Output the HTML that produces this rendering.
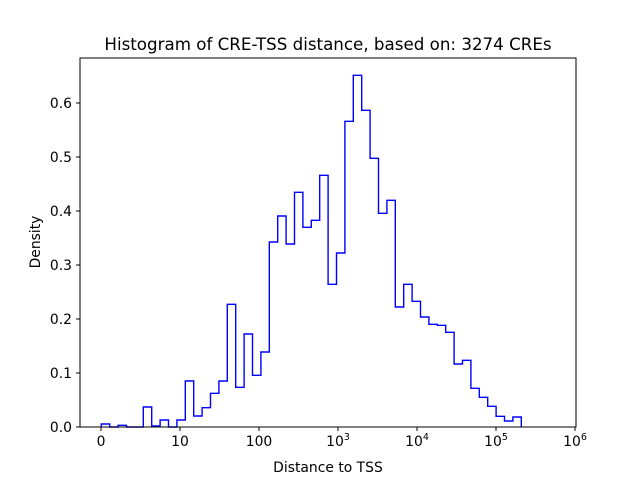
<!DOCTYPE html>
<html><head><style>body{margin:0;background:#fff}svg{display:block}text{font-family:"DejaVu Sans","Liberation Sans",sans-serif;fill:#000}</style></head>
<body>
<svg width="640" height="480" xmlns="http://www.w3.org/2000/svg">
<rect width="640" height="480" fill="#fff"/>
<path fill="none" stroke="#0000ff" stroke-width="1.4" d="M101.3,427 V424 H109.7 V427 H118.1 V425.3 H126.5 V427 H134.9 V427 H143.3 V407 H151.7 V426 H160.1 V420 H168.5 V427 H176.9 V420 H185.3 V381 H193.7 V416 H202.1 V407.7 H210.5 V393.3 H218.9 V381 H227.3 V304.3 H235.7 V387.3 H244.1 V334 H252.5 V375.3 H260.9 V352 H269.3 V242 H277.7 V216 H286.1 V244 H294.5 V192.3 H302.9 V227.3 H311.3 V220.3 H319.7 V175.3 H328.1 V284.3 H336.5 V253 H344.9 V121.3 H353.3 V75.3 H361.7 V110.3 H370.1 V158.3 H378.5 V213.3 H386.9 V200.3 H395.3 V307 H403.7 V284.3 H412.1 V301.3 H420.5 V317 H428.9 V324.3 H437.3 V325.3 H445.7 V332.3 H454.1 V364 H462.5 V360.3 H470.9 V388.3 H479.3 V397.3 H487.7 V406.3 H496.1 V416.3 H504.5 V421 H512.9 V417 H521.3 V427"/>
<rect x="80" y="58" width="496" height="369" fill="none" stroke="#000" stroke-width="1"/>
<g stroke="#000" stroke-width="1">
<line x1="101" y1="427" x2="101" y2="431"/><line x1="180" y1="427" x2="180" y2="431"/><line x1="259" y1="427" x2="259" y2="431"/><line x1="338" y1="427" x2="338" y2="431"/><line x1="417" y1="427" x2="417" y2="431"/><line x1="496" y1="427" x2="496" y2="431"/><line x1="575" y1="427" x2="575" y2="431"/>
<line x1="76" y1="427" x2="80" y2="427"/><line x1="76" y1="373" x2="80" y2="373"/><line x1="76" y1="319" x2="80" y2="319"/><line x1="76" y1="265" x2="80" y2="265"/><line x1="76" y1="211" x2="80" y2="211"/><line x1="76" y1="157" x2="80" y2="157"/><line x1="76" y1="103" x2="80" y2="103"/>
</g>
<g font-size="13.9" text-anchor="middle">
<text x="101" y="446">0</text><text x="180" y="446">10</text><text x="259" y="446">100</text>
<text x="338" y="446">10<tspan font-size="9.5" dy="-6">3</tspan></text>
<text x="417" y="446">10<tspan font-size="9.5" dy="-6">4</tspan></text>
<text x="496" y="446">10<tspan font-size="9.5" dy="-6">5</tspan></text>
<text x="575" y="446">10<tspan font-size="9.5" dy="-6">6</tspan></text>
</g>
<g font-size="13.9" text-anchor="end">
<text x="72" y="432">0.0</text><text x="72" y="378">0.1</text><text x="72" y="324">0.2</text><text x="72" y="270">0.3</text><text x="72" y="216">0.4</text><text x="72" y="162">0.5</text><text x="72" y="108">0.6</text>
</g>
<text x="328" y="472" font-size="13.9" text-anchor="middle">Distance to TSS</text>
<text x="0" y="0" font-size="13.9" text-anchor="middle" transform="translate(40,242) rotate(-90)">Density</text>
<text x="328" y="50" font-size="16.7" text-anchor="middle">Histogram of CRE-TSS distance, based on: 3274 CREs</text>
</svg>
</body></html>
